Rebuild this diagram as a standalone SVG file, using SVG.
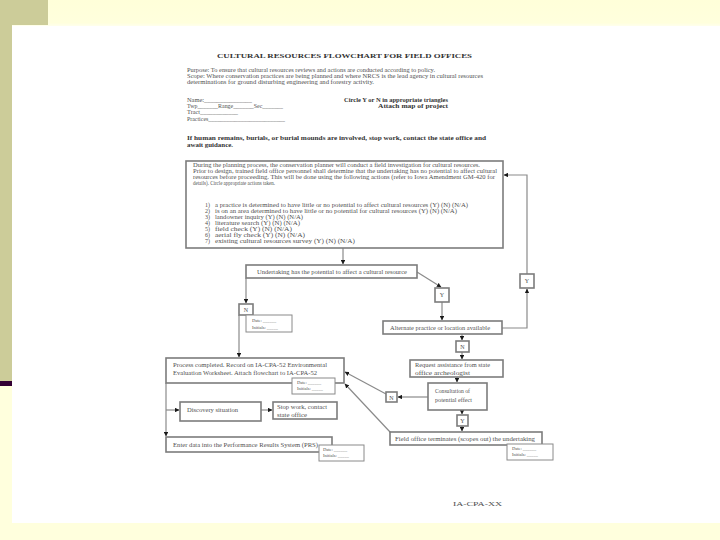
<svg xmlns="http://www.w3.org/2000/svg" width="720" height="540" viewBox="0 0 720 540">
<defs>
<linearGradient id="topg" x1="0" y1="0" x2="0" y2="1"><stop offset="0" stop-color="#FFFFD9"/><stop offset="0.85" stop-color="#FFFFDD"/><stop offset="1" stop-color="#FFFFF2"/></linearGradient>
<marker id="a" viewBox="0 0 6 6" refX="5.5" refY="3" markerWidth="4.5" markerHeight="4.5" orient="auto" markerUnits="userSpaceOnUse"><path d="M0,0 L6,3 L0,6z" fill="#1a1a1a"/></marker>
<style>
.t{font-family:"Liberation Serif","Times New Roman",serif;font-size:6px;fill:#505050}
.b{font-family:"Liberation Serif","Times New Roman",serif;font-size:6.5px;font-weight:bold;fill:#333}
.s{font-family:"Liberation Serif","Times New Roman",serif;font-size:4.5px;fill:#505050}
.box{fill:#fff;stroke:#7c7c7c;stroke-width:1.6}
.sm{fill:#fff;stroke:#8a8a8a;stroke-width:1}
.c{fill:none;stroke:#8a8a8a;stroke-width:1.2}
</style>
</defs>
<!-- background -->
<rect x="0" y="0" width="720" height="540" fill="#FFFFDD"/>
<rect x="0" y="0" width="720" height="27" fill="url(#topg)"/>
<rect x="12" y="26" width="708" height="497" fill="#FFFFFF"/>
<rect x="0" y="0" width="48" height="25" fill="#CCCC99"/>
<rect x="0" y="25" width="12" height="356" fill="#CCCC99"/>
<rect x="0" y="381" width="12" height="5" fill="#330033"/>

<!-- header -->
<g id="header">
<text class="b" x="217" y="58" font-size="8.5" textLength="255" lengthAdjust="spacingAndGlyphs">CULTURAL RESOURCES FLOWCHART FOR FIELD OFFICES</text>
<text class="t" x="187" y="72" textLength="248" lengthAdjust="spacingAndGlyphs">Purpose:  To ensure that cultural resources reviews and actions are conducted according to policy.</text>
<text class="t" x="187" y="78" textLength="296" lengthAdjust="spacingAndGlyphs">Scope:  Where conservation practices are being planned and where NRCS is the lead agency in cultural resources</text>
<text class="t" x="187" y="84" textLength="187" lengthAdjust="spacingAndGlyphs">determinations for ground disturbing engineering and forestry activity.</text>
<text class="t" x="187" y="102" textLength="65" lengthAdjust="spacingAndGlyphs">Name:_______________</text>
<text class="t" x="187" y="108" textLength="96" lengthAdjust="spacingAndGlyphs">Twp_______Range_______Sec_______</text>
<text class="t" x="187" y="114" textLength="51" lengthAdjust="spacingAndGlyphs">Tract____________</text>
<text class="t" x="187" y="121" textLength="98" lengthAdjust="spacingAndGlyphs">Practices__________________________</text>
<text class="b" x="344" y="102" font-size="6" textLength="104" lengthAdjust="spacingAndGlyphs">Circle Y or N in appropriate triangles</text>
<text class="b" x="378" y="108" font-size="6" textLength="70" lengthAdjust="spacingAndGlyphs">Attach map of project</text>
<text class="b" x="187" y="140" textLength="299" lengthAdjust="spacingAndGlyphs">If human remains, burials, or burial mounds are involved, stop work, contact the state office and</text>
<text class="b" x="187" y="147" textLength="46" lengthAdjust="spacingAndGlyphs">await guidance.</text>
</g>

<!-- connectors -->
<g id="connectors">
<path class="c" d="M343,248 V264" marker-end="url(#a)"/>
<path class="c" d="M417,272 L441,287" marker-end="url(#a)"/>
<path class="c" d="M442,302 V320" marker-end="url(#a)"/>
<path class="c" d="M502,328 H527 V289" marker-end="url(#a)"/>
<path class="c" d="M527,274 V175 H504" marker-end="url(#a)"/>
<path class="c" d="M246,278 V303" marker-end="url(#a)"/>
<path class="c" d="M239,315 V357" marker-end="url(#a)"/>
<path class="c" d="M462,334 V340" marker-end="url(#a)"/>
<path class="c" d="M462,352 V359" marker-end="url(#a)"/>
<path class="c" d="M457,377 V382" marker-end="url(#a)"/>
<path class="c" d="M428,397 H398" marker-end="url(#a)"/>
<path class="c" d="M386,394 L345,372" marker-end="url(#a)"/>
<path class="c" d="M462,410 V414" marker-end="url(#a)"/>
<path class="c" d="M462,426 V431" marker-end="url(#a)"/>
<path class="c" d="M391,433 L345,384" marker-end="url(#a)"/>
<path class="c" d="M166,383 V436" marker-end="url(#a)"/>
<path class="c" d="M166,410 H179" marker-end="url(#a)"/>
<path class="c" d="M261,410 H272" marker-end="url(#a)"/>
</g>

<!-- nodes -->
<g id="planning">
<rect class="box" x="186" y="161" width="317" height="87"/>
<text class="t" x="193" y="167" textLength="287" lengthAdjust="spacingAndGlyphs">During the planning process, the conservation planner will conduct a field investigation for cultural resources.</text>
<text class="t" x="193" y="173" textLength="304" lengthAdjust="spacingAndGlyphs">Prior to design, trained field office personnel shall determine that the undertaking has no potential to affect cultural</text>
<text class="t" x="193" y="179" textLength="302" lengthAdjust="spacingAndGlyphs">resources before proceeding.  This will be done using the following actions (refer to Iowa Amendment GM-420 for</text>
<text class="t" x="193" y="185" textLength="82" lengthAdjust="spacingAndGlyphs">details).  Circle appropriate actions taken.</text>
<text class="t" x="205" y="207">1)</text><text class="t" x="215" y="207" textLength="253" lengthAdjust="spacingAndGlyphs">a practice is determined to have little or no potential to affect cultural resources (Y) (N) (N/A)</text>
<text class="t" x="205" y="213">2)</text><text class="t" x="215" y="213" textLength="242" lengthAdjust="spacingAndGlyphs">is on an area determined to have little or no potential for cultural resources  (Y) (N) (N/A)</text>
<text class="t" x="205" y="219">3)</text><text class="t" x="215" y="219" textLength="88" lengthAdjust="spacingAndGlyphs">landowner inquiry  (Y) (N) (N/A)</text>
<text class="t" x="205" y="225">4)</text><text class="t" x="215" y="225" textLength="85" lengthAdjust="spacingAndGlyphs">literature search  (Y) (N) (N/A)</text>
<text class="t" x="205" y="231">5)</text><text class="t" x="215" y="231" textLength="77" lengthAdjust="spacingAndGlyphs">field check  (Y) (N) (N/A)</text>
<text class="t" x="205" y="237">6)</text><text class="t" x="215" y="237" textLength="90" lengthAdjust="spacingAndGlyphs">aerial fly check  (Y) (N) (N/A)</text>
<text class="t" x="205" y="243">7)</text><text class="t" x="215" y="243" textLength="140" lengthAdjust="spacingAndGlyphs">existing cultural resources survey (Y) (N) (N/A)</text>
</g>

<g id="undertaking">
<rect class="box" x="246" y="265" width="171" height="13"/>
<text class="t" x="257" y="274" textLength="150" lengthAdjust="spacingAndGlyphs">Undertaking has the potential to affect a cultural resource</text>
</g>

<g id="y1">
<rect class="box" x="435" y="288" width="14" height="14"/>
<text class="t" x="442" y="297" text-anchor="middle">Y</text>
</g>

<g id="y2">
<rect class="box" x="520" y="274" width="14" height="14"/>
<text class="t" x="527" y="283" text-anchor="middle">Y</text>
</g>

<g id="n1">
<rect class="box" x="239" y="304" width="14" height="11"/>
<text class="t" x="246" y="312" text-anchor="middle">N</text>
</g>

<g id="date1">
<rect class="sm" x="246" y="315" width="46" height="17"/>
<text class="s" x="252" y="322">Date: ______</text>
<text class="s" x="252" y="329">Initials: _____</text>
</g>

<g id="alternate">
<rect class="box" x="383" y="321" width="119" height="13"/>
<text class="t" x="390" y="330" textLength="100" lengthAdjust="spacingAndGlyphs">Alternate practice or location available</text>
</g>

<g id="n2">
<rect class="box" x="456" y="341" width="13" height="11"/>
<text class="t" x="462.5" y="349" text-anchor="middle">N</text>
</g>

<g id="request">
<rect class="box" x="410" y="360" width="93" height="17"/>
<text class="t" x="415" y="367" textLength="75" lengthAdjust="spacingAndGlyphs">Request assistance from state</text>
<text class="t" x="415" y="375" textLength="55" lengthAdjust="spacingAndGlyphs">office archeologist</text>
</g>

<g id="consultation">
<rect class="box" x="428" y="383" width="59" height="27"/>
<text class="t" x="435" y="393" textLength="35" lengthAdjust="spacingAndGlyphs">Consultation of</text>
<text class="t" x="435" y="402" textLength="37" lengthAdjust="spacingAndGlyphs">potential effect</text>
</g>

<g id="n3">
<rect class="box" x="386" y="392" width="11" height="10"/>
<text class="t" x="391.5" y="399.5" text-anchor="middle" font-size="5">N</text>
</g>

<g id="y3">
<rect class="box" x="457" y="415" width="11" height="11"/>
<text class="t" x="462.5" y="423" text-anchor="middle" font-size="5.5">Y</text>
</g>

<g id="fieldoffice">
<rect class="box" x="390" y="432" width="152" height="13"/>
<text class="t" x="395" y="441" textLength="140" lengthAdjust="spacingAndGlyphs">Field office terminates (scopes out) the undertaking</text>
</g>
<g id="date4">
<rect class="sm" x="507" y="444" width="46" height="16"/>
<text class="s" x="512" y="450">Date: ______</text>
<text class="s" x="512" y="456">Initials: _____</text>
</g>

<g id="process">
<rect class="box" x="166" y="358" width="178" height="25"/>
<text class="t" x="173" y="367" textLength="154" lengthAdjust="spacingAndGlyphs">Process completed.  Record on IA-CPA-52 Environmental</text>
<text class="t" x="173" y="375" textLength="144" lengthAdjust="spacingAndGlyphs">Evaluation Worksheet.  Attach flowchart to IA-CPA-52</text>
</g>
<g id="date2">
<rect class="sm" x="292" y="378" width="43" height="16"/>
<text class="s" x="297" y="384">Date: ______</text>
<text class="s" x="297" y="390">Initials: _____</text>
</g>

<g id="discovery">
<rect class="box" x="180" y="402" width="81" height="19"/>
<text class="t" x="187" y="412" textLength="51" lengthAdjust="spacingAndGlyphs">Discovery situation</text>
</g>

<g id="stopwork">
<rect class="box" x="273" y="402" width="64" height="17"/>
<text class="t" x="277" y="409" textLength="50" lengthAdjust="spacingAndGlyphs">Stop work, contact</text>
<text class="t" x="277" y="417" textLength="30" lengthAdjust="spacingAndGlyphs">state office</text>
</g>

<g id="enterdata">
<rect class="box" x="166" y="437" width="166" height="15"/>
<text class="t" x="173" y="447" textLength="145" lengthAdjust="spacingAndGlyphs">Enter data into the Performance Results System (PRS)</text>
</g>
<g id="date3">
<rect class="sm" x="319" y="445" width="45" height="16"/>
<text class="s" x="323" y="451">Date: ______</text>
<text class="s" x="323" y="457">Initials: _____</text>
</g>

<text class="t" x="453" y="506" font-size="8" textLength="49" lengthAdjust="spacingAndGlyphs" fill="#666">IA-CPA-XX</text>
</svg>
